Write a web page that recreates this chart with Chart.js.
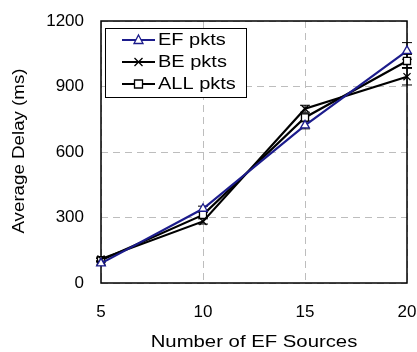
<!DOCTYPE html>
<html>
<head>
<meta charset="utf-8">
<script src="https://cdn.jsdelivr.net/npm/chart.js@4"></script>
<style>
  html, body { margin: 0; padding: 0; background: #fff; }
  #wrap { width: 417px; height: 352px; }
</style>
</head>
<body>
<div id="wrap"><canvas id="c" width="417" height="352"></canvas></div>
<script>
// Number of EF sources on the x axis
const sources = [5, 10, 15, 20];
// Average delay (ms) per packet class
const efDelay  = [90, 340, 722, 1063];
const beDelay  = [110, 282, 798, 945];
const allDelay = [104, 312, 758, 1017];
// Half-width of the confidence interval (ms)
const efSpread  = [8, 12, 16, 38];
const beSpread  = [8, 12, 16, 38];
const allSpread = [8, 12, 16, 30];
// Axis ticks and titles
const xTicks = [5, 10, 15, 20];
const yTicks = [0, 300, 600, 900, 1200];
const xTitle = 'Number of EF Sources';
const yTitle = 'Average Delay (ms)';

const FONT = "'Liberation Sans', Arial, sans-serif";

function pts(values) {
  return sources.map((s, i) => ({ x: s, y: values[i] }));
}

const series = [
  { label: 'EF pkts',  data: pts(efDelay),  spread: efSpread,  color: '#1c1c8c', marker: 'triangle', fill: '#ffffff' },
  { label: 'BE pkts',  data: pts(beDelay),  spread: beSpread,  color: '#000000', marker: 'crossRot', fill: '#000000' },
  { label: 'ALL pkts', data: pts(allDelay), spread: allSpread, color: '#000000', marker: 'rect',     fill: '#ffffff' }
];

// Text in a slightly wide face: horizontal stretch along the baseline
function wideText(ctx, text, x, y, sx, align, rotation) {
  ctx.save();
  ctx.translate(x, y);
  if (rotation) ctx.rotate(rotation);
  ctx.scale(sx, 1);
  ctx.textAlign = align;
  ctx.fillText(text, 0, 0);
  ctx.restore();
}

function drawMarker(ctx, style, x, y) {
  ctx.save();
  if (style === 'triangle') {
    ctx.beginPath();
    ctx.moveTo(x, y - 5); ctx.lineTo(x + 4.5, y + 3.5); ctx.lineTo(x - 4.5, y + 3.5); ctx.closePath();
    ctx.fill(); ctx.stroke();
  } else if (style === 'rect') {
    ctx.beginPath();
    ctx.rect(x - 4, y - 4, 8, 8);
    ctx.fill(); ctx.stroke();
  } else {
    ctx.beginPath();
    ctx.moveTo(x - 4, y - 4); ctx.lineTo(x + 4, y + 4);
    ctx.moveTo(x + 4, y - 4); ctx.lineTo(x - 4, y + 4);
    ctx.stroke();
  }
  ctx.restore();
}

// Solid frame around the plot area and error bars under the lines
const framePlugin = {
  id: 'frame',
  beforeDatasetsDraw(chart) {
    const { ctx, chartArea: a } = chart;
    ctx.save();
    ctx.strokeStyle = '#000';
    ctx.lineWidth = 1.5;
    ctx.strokeRect(a.left, a.top, a.right - a.left, a.bottom - a.top);
    const xs = chart.scales.x, ys = chart.scales.y;
    ctx.lineWidth = 1;
    chart.data.datasets.forEach(ds => {
      ds.data.forEach((p, i) => {
        const px = xs.getPixelForValue(p.x);
        const lo = ys.getPixelForValue(p.y - ds.spread[i]);
        const hi = ys.getPixelForValue(p.y + ds.spread[i]);
        ctx.strokeStyle = '#000';
        ctx.beginPath();
        ctx.moveTo(px, lo); ctx.lineTo(px, hi);
        ctx.moveTo(px - 5, lo); ctx.lineTo(px + 5, lo);
        ctx.moveTo(px - 5, hi); ctx.lineTo(px + 5, hi);
        ctx.stroke();
      });
    });
    ctx.restore();
  }
};

// Axis titles and the boxed legend
const overlayPlugin = {
  id: 'overlay',
  afterDraw(chart) {
    const { ctx, chartArea: a } = chart;
    ctx.save();
    ctx.fillStyle = '#000';
    ctx.font = '16px ' + FONT;
    ctx.textBaseline = 'alphabetic';
    wideText(ctx, xTitle, (a.left + a.right) / 2, 347, 1.27, 'center', 0);
    wideText(ctx, yTitle, 24, 151, 1.17, 'center', -Math.PI / 2);

    const bx = 105, by = 28, bw = 141, bh = 69;
    ctx.fillStyle = '#fff';
    ctx.fillRect(bx, by, bw, bh);
    ctx.strokeStyle = '#000';
    ctx.lineWidth = 1;
    ctx.strokeRect(bx + 0.5, by + 0.5, bw, bh);
    chart.data.datasets.forEach((ds, i) => {
      const y = 40 + i * 22;
      ctx.strokeStyle = ds.borderColor;
      ctx.lineWidth = 2;
      ctx.beginPath();
      ctx.moveTo(122, y); ctx.lineTo(155, y);
      ctx.stroke();
      ctx.fillStyle = ds.pointBackgroundColor;
      ctx.strokeStyle = ds.pointBorderColor;
      ctx.lineWidth = 1.3;
      drawMarker(ctx, ds.pointStyle, 138.5, y);
      ctx.fillStyle = '#000';
      ctx.textBaseline = 'middle';
      wideText(ctx, ds.label, 158, y + 1, 1.25, 'left', 0);
    });
    ctx.restore();
  }
};

new Chart(document.getElementById('c'), {
  type: 'scatter',
  data: {
    datasets: series.map(s => ({
      label: s.label,
      data: s.data,
      spread: s.spread,
      showLine: true,
      borderColor: s.color,
      backgroundColor: s.color,
      borderWidth: 2.2,
      pointStyle: s.marker,
      pointRadius: 5,
      pointHoverRadius: 5,
      pointBorderWidth: 1.3,
      pointBorderColor: s.color,
      pointBackgroundColor: s.fill,
      tension: 0,
      clip: false
    }))
  },
  options: {
    responsive: false,
    devicePixelRatio: 1,
    animation: false,
    layout: { padding: { top: 21, right: 10, left: 0, bottom: 0 } },
    plugins: {
      legend: { display: false },
      tooltip: { enabled: false }
    },
    scales: {
      x: {
        type: 'linear',
        min: 5, max: 20,
        afterBuildTicks(scale) { scale.ticks = xTicks.map(v => ({ value: v })); },
        afterFit(scale) { scale.height = 69; scale.paddingLeft = 0; scale.paddingRight = 0; },
        grid: { color: '#bdbdbd', lineWidth: 1, drawTicks: false },
        border: { display: false, dash: [7, 5] },
        ticks: { padding: 19, color: '#000', font: { family: FONT, size: 17 }, maxRotation: 0,
                 callback: v => String(v) },
        title: { display: false }
      },
      y: {
        min: 0, max: 1200,
        afterBuildTicks(scale) { scale.ticks = yTicks.map(v => ({ value: v })); },
        afterFit(scale) { scale.width = 101; scale.paddingTop = 0; scale.paddingBottom = 0; },
        grid: { color: '#bdbdbd', lineWidth: 1, drawTicks: false },
        border: { display: false, dash: [7, 5] },
        ticks: { padding: 17, color: '#000', font: { family: FONT, size: 17 },
                 callback: v => String(v) },
        title: { display: false }
      }
    }
  },
  plugins: [framePlugin, overlayPlugin]
});
</script>
</body>
</html>
